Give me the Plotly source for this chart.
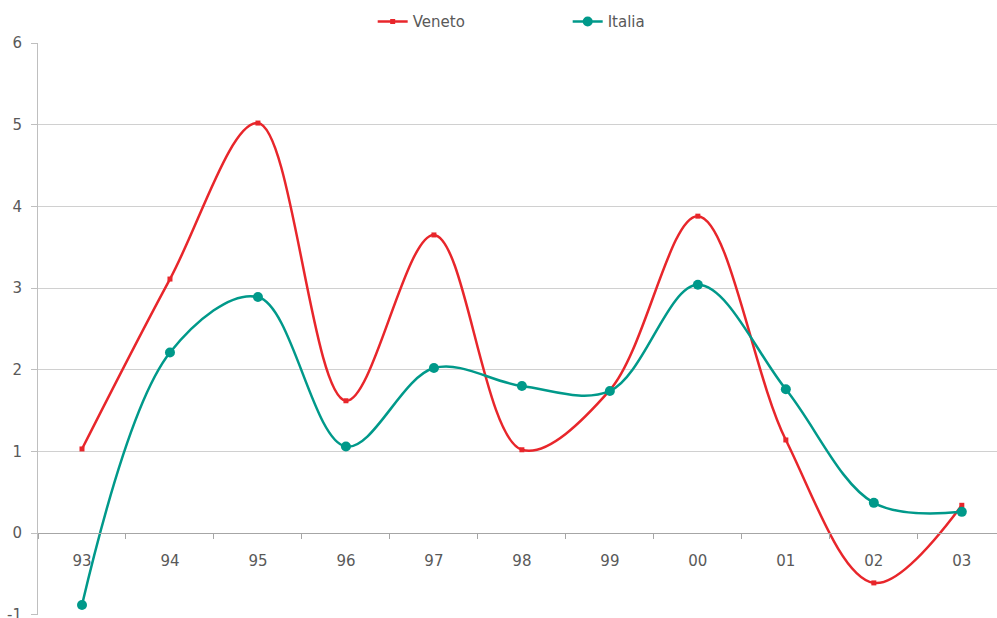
import plotly.graph_objects as go

# Year labels (category axis) and yearly values for each series
years = ["93", "94", "95", "96", "97", "98", "99", "00", "01", "02", "03"]
veneto = [1.03, 3.11, 5.02, 1.62, 3.65, 1.02, 1.75, 3.88, 1.14, -0.61, 0.34]
italia = [-0.88, 2.21, 2.89, 1.06, 2.02, 1.80, 1.74, 3.04, 1.76, 0.37, 0.26]

# Value-axis ticks and their labels
y_ticks = [-1, 0, 1, 2, 3, 4, 5, 6]
y_tick_labels = ["-1", "0", "1", "2", "3", "4", "5", "6"]

y_min, y_max = -1, 6
red = "#E8262B"
teal = "#00998A"
text_grey = "#595959"

fig = go.Figure()
fig.add_trace(go.Scatter(
    x=years, y=veneto, name="Veneto", mode="lines+markers",
    line=dict(color=red, width=2.5, shape="spline", smoothing=1.0),
    marker=dict(symbol="square", size=5, color=red),
))
fig.add_trace(go.Scatter(
    x=years, y=italia, name="Italia", mode="lines+markers",
    line=dict(color=teal, width=2.5, shape="spline", smoothing=1.0),
    marker=dict(symbol="circle", size=10, color=teal),
))

fig.update_layout(
    width=997, height=618,
    margin=dict(l=38, r=0, t=43, b=3),
    paper_bgcolor="white", plot_bgcolor="white",
    font=dict(family="DejaVu Sans", size=15, color=text_grey),
    showlegend=True,
    legend=dict(
        orientation="h", x=0.349, xanchor="left", y=1.037, yanchor="middle",
        entrywidth=150, entrywidthmode="pixels", itemwidth=30,
        font=dict(size=15, color=text_grey),
    ),
    xaxis=dict(
        type="category",
        range=[-0.5, 10.4],
        anchor="free",
        position=(0 - y_min) / (y_max - y_min),
        automargin=False,
        showline=True, linecolor="#A6A6A6", linewidth=1,
        ticks="outside", tickson="boundaries", ticklen=5, tickcolor="#A6A6A6",
        showgrid=False, zeroline=False,
        ticklabelstandoff=14,
        tickfont=dict(size=15, color=text_grey),
    ),
    yaxis=dict(
        range=[y_min - 0.003, y_max],
        tickmode="array", tickvals=y_ticks, ticktext=y_tick_labels,
        automargin=False,
        showline=True, linecolor="#BFBFBF", linewidth=1,
        ticks="outside", ticklen=6, tickcolor="#BFBFBF",
        showgrid=True, gridcolor="#D0D0D0", gridwidth=1,
        zeroline=False,
        ticklabelstandoff=6,
        ticklabeloverflow="allow",
        tickfont=dict(size=15, color=text_grey),
    ),
)

fig.write_html("out.html")
